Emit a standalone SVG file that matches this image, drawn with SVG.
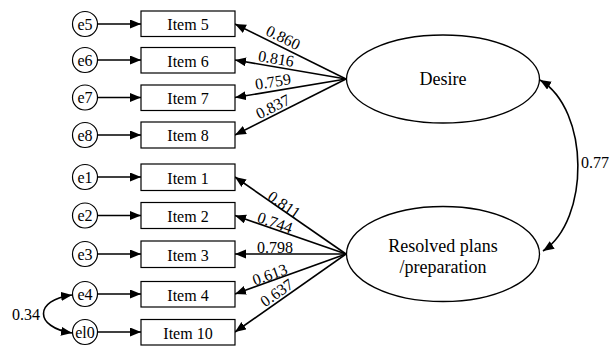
<svg xmlns="http://www.w3.org/2000/svg" width="611" height="347" viewBox="0 0 611 347">
<style>
.t{font-size:16px;text-anchor:middle;font-family:'Liberation Serif','Times New Roman',serif}
.big{font-size:18px;text-anchor:middle;font-family:'Liberation Serif','Times New Roman',serif}
.box{fill:#fff;stroke:#000;stroke-width:1.2}
.err{fill:#fff;stroke:#000;stroke-width:1.2}
.lat{fill:#fff;stroke:#000;stroke-width:1.3}
.c{stroke:#000;stroke-width:1.6;fill:none;marker-end:url(#ah)}
.d{stroke:#000;stroke-width:1.6;fill:none;marker-end:url(#ah);marker-start:url(#ah)}
</style>
<defs>
<marker id="ah" markerUnits="userSpaceOnUse" markerWidth="12" markerHeight="10" refX="11" refY="4.5" orient="auto-start-reverse">
<path d="M0,0 L11,4.5 L0,9 z" fill="#000"/>
</marker>
</defs>
<g id="connectors">
<path class="c" d="M97,24 L141,24"/>
<path class="c" d="M97,60 L141,60"/>
<path class="c" d="M97,97.5 L141,97.5"/>
<path class="c" d="M97,135 L141,135"/>
<path class="c" d="M97,177 L141,177"/>
<path class="c" d="M97,215.5 L141,215.5"/>
<path class="c" d="M97,254 L141,254"/>
<path class="c" d="M97,294 L141,294"/>
<path class="c" d="M97,332 L141,332"/>
<path class="c" d="M346,79 L235,24"/>
<path class="c" d="M346,79 L235,60"/>
<path class="c" d="M346,79 L235,97.5"/>
<path class="c" d="M346,79 L235,135"/>
<path class="c" d="M346,254 L235,177"/>
<path class="c" d="M346,254 L235,215.5"/>
<path class="c" d="M346,254 L235,254"/>
<path class="c" d="M346,254 L235,294"/>
<path class="c" d="M346,254 L235,332"/>
<path class="d" d="M540,80 C590,110 590,220 543,251"/>
<path class="d" d="M72,295 C34,300 34,327 72,333"/>
<text class="t" transform="translate(283,38) rotate(26)" y="5">0.860</text>
<text class="t" transform="translate(276,59) rotate(9.6)" y="5">0.816</text>
<text class="t" transform="translate(273,82) rotate(-9)" y="5">0.759</text>
<text class="t" transform="translate(273,107) rotate(-26.6)" y="5">0.837</text>
<text class="t" transform="translate(284,205) rotate(34.5)" y="5">0.811</text>
<text class="t" transform="translate(275,223) rotate(19)" y="5">0.744</text>
<text class="t" transform="translate(275,248)" y="5">0.798</text>
<text class="t" transform="translate(270,275) rotate(-19.6)" y="5">0.613</text>
<text class="t" transform="translate(277,293) rotate(-34.8)" y="5">0.637</text>
<text class="t" x="595" y="168">0.77</text>
<text class="t" x="26" y="320">0.34</text>
</g>
<g id="e5"><circle class="err" cx="85" cy="24" r="12.5"/><text class="t" x="85" y="29.5">e5</text></g>
<g id="e6"><circle class="err" cx="85" cy="60" r="12.5"/><text class="t" x="85" y="65.5">e6</text></g>
<g id="e7"><circle class="err" cx="85" cy="97.5" r="12.5"/><text class="t" x="85" y="103">e7</text></g>
<g id="e8"><circle class="err" cx="85" cy="135" r="12.5"/><text class="t" x="85" y="140.5">e8</text></g>
<g id="e1"><circle class="err" cx="85" cy="177" r="12.5"/><text class="t" x="85" y="182.5">e1</text></g>
<g id="e2"><circle class="err" cx="85" cy="215.5" r="12.5"/><text class="t" x="85" y="221">e2</text></g>
<g id="e3"><circle class="err" cx="85" cy="254" r="12.5"/><text class="t" x="85" y="259.5">e3</text></g>
<g id="e4"><circle class="err" cx="85" cy="294" r="12.5"/><text class="t" x="85" y="299.5">e4</text></g>
<g id="el0"><circle class="err" cx="85" cy="332" r="12.5"/><text class="t" x="85" y="337.5">el0</text></g>
<g id="item5"><rect class="box" x="141" y="11" width="94" height="25.5"/><text class="t" x="188" y="30">Item 5</text></g>
<g id="item6"><rect class="box" x="141" y="47.5" width="94" height="25.5"/><text class="t" x="188" y="66.5">Item 6</text></g>
<g id="item7"><rect class="box" x="141" y="85" width="94" height="25.5"/><text class="t" x="188" y="104">Item 7</text></g>
<g id="item8"><rect class="box" x="141" y="122" width="94" height="26"/><text class="t" x="188" y="141">Item 8</text></g>
<g id="item1"><rect class="box" x="141" y="164" width="94" height="26.5"/><text class="t" x="188" y="183.5">Item 1</text></g>
<g id="item2"><rect class="box" x="141" y="202.5" width="94" height="26"/><text class="t" x="188" y="221.5">Item 2</text></g>
<g id="item3"><rect class="box" x="141" y="241" width="94" height="26.5"/><text class="t" x="188" y="260.5">Item 3</text></g>
<g id="item4"><rect class="box" x="141" y="281.5" width="94" height="25.5"/><text class="t" x="188" y="300.5">Item 4</text></g>
<g id="item10"><rect class="box" x="141" y="319.5" width="94" height="25.5"/><text class="t" x="188" y="338.5">Item 10</text></g>
<g id="desire"><ellipse class="lat" cx="443" cy="79" rx="96.5" ry="44"/><text class="big" x="443" y="85">Desire</text></g>
<g id="resolved"><ellipse class="lat" cx="443" cy="254" rx="96.5" ry="47.5"/><text class="big" x="443" y="252">Resolved plans</text><text class="big" x="443" y="273">/preparation</text></g>
</svg>
